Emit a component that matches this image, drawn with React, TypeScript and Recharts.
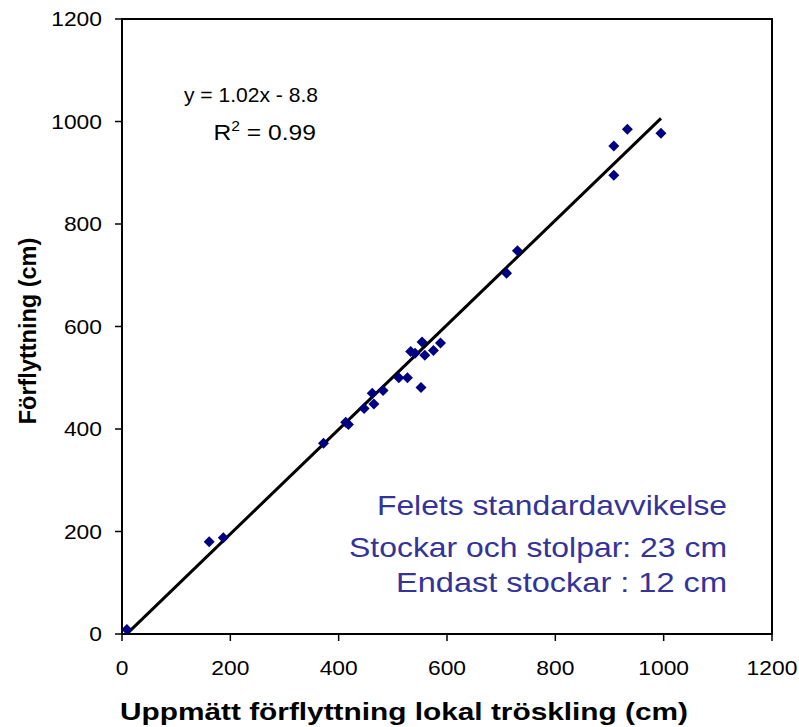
import React from 'react';
import { ScatterChart, Scatter, XAxis, YAxis, ReferenceArea } from 'recharts';

// measured displacement (x) vs estimated displacement (y), cm
const measured = [9, 161, 187, 372, 413, 418, 447, 465, 462, 482, 511, 527, 552, 533, 541, 554, 559, 575, 588, 710, 730, 908, 908, 933, 995];
const estimated = [9, 180, 188, 372, 413, 409, 440, 449, 470, 475, 500, 500, 481, 551, 548, 570, 544, 553, 568, 704, 748, 895, 952, 985, 977];

const axisTicks = [0, 200, 400, 600, 800, 1000, 1200];

// linear trendline from the chart: y = 1.02x - 8.8
const slope = 1.02;
const intercept = -8.8;
const trendRange = [9, 995];

const points = measured.map((x, i) => ({ x, y: estimated[i] }));
const trend = trendRange.map((x) => ({ x, y: slope * x + intercept }));

const FONT = 'Arial, "Liberation Sans", sans-serif';
const SX = 1.17; // source image is stretched horizontally

const Diamond = (props: any) => {
  const { cx, cy } = props;
  if (cx == null || cy == null) return null;
  const r = 5.5;
  return <polygon points={`${cx},${cy - r} ${cx + r},${cy} ${cx},${cy + r} ${cx - r},${cy}`} fill="#000080" />;
};

const XTick = (props: any) => {
  const { x, payload } = props;
  return (
    <text transform={`translate(${x},675) scale(${SX},1)`} textAnchor="middle" fontSize={19.5} fontFamily={FONT} fill="#000">
      {payload.value}
    </text>
  );
};

const YTick = (props: any) => {
  const { y, payload } = props;
  return (
    <text transform={`translate(102,${y + 7}) scale(${SX},1)`} textAnchor="end" fontSize={19.5} fontFamily={FONT} fill="#000">
      {payload.value}
    </text>
  );
};

const blue = '#333399';

export default function App() {
  return (
    <div style={{ position: 'absolute', left: 0, top: 0 }}>
      <ScatterChart width={799} height={727} margin={{ top: 19, right: 27, bottom: 0, left: 0 }}>
        <XAxis
          type="number"
          dataKey="x"
          domain={[0, 1200]}
          ticks={axisTicks}
          tickSize={7}
          height={93}
          tick={<XTick />}
          axisLine={{ stroke: '#000', strokeWidth: 2 }}
          tickLine={{ stroke: '#000', strokeWidth: 1.5 }}
        />
        <YAxis
          type="number"
          dataKey="y"
          domain={[0, 1200]}
          ticks={axisTicks}
          tickSize={7}
          width={122}
          tick={<YTick />}
          axisLine={{ stroke: '#000', strokeWidth: 2 }}
          tickLine={{ stroke: '#000', strokeWidth: 1.5 }}
        />
        <ReferenceArea x1={0} x2={1200} y1={0} y2={1200} fill="none" fillOpacity={0} stroke="#000" strokeWidth={2} />
        <Scatter data={trend} line={{ stroke: '#000', strokeWidth: 3 }} shape={() => null} isAnimationActive={false} legendType="none" />
        <Scatter data={points} shape={<Diamond />} isAnimationActive={false} />

        <text x={318} y={102} textAnchor="end" fontSize={21} fontFamily={FONT} fill="#000" textLength={134} lengthAdjust="spacingAndGlyphs">
          y = 1.02x - 8.8
        </text>
        <text transform="translate(316,140) scale(1.12,1)" textAnchor="end" fontSize={22} fontFamily={FONT} fill="#000">
          R<tspan dy={-9} fontSize={14}>2</tspan><tspan dy={9}> = 0.99</tspan>
        </text>

        <text x={727} y={515} textAnchor="end" fontSize={28} fontFamily={FONT} fill={blue} textLength={350} lengthAdjust="spacingAndGlyphs">
          Felets standardavvikelse
        </text>
        <text x={727} y={557} textAnchor="end" fontSize={28} fontFamily={FONT} fill={blue} textLength={378} lengthAdjust="spacingAndGlyphs">
          Stockar och stolpar: 23 cm
        </text>
        <text x={727} y={592} textAnchor="end" fontSize={28} fontFamily={FONT} fill={blue} textLength={331} lengthAdjust="spacingAndGlyphs">
          Endast stockar : 12 cm
        </text>

        <text x={404} y={720} textAnchor="middle" fontSize={23} fontWeight="bold" fontFamily={FONT} fill="#000" textLength={568} lengthAdjust="spacingAndGlyphs">
          Uppmätt förflyttning lokal tröskling (cm)
        </text>
        <text transform="translate(36,331) rotate(-90)" textAnchor="middle" fontSize={23.5} fontWeight="bold" fontFamily={FONT} fill="#000">
          Förflyttning (cm)
        </text>
      </ScatterChart>
    </div>
  );
}
